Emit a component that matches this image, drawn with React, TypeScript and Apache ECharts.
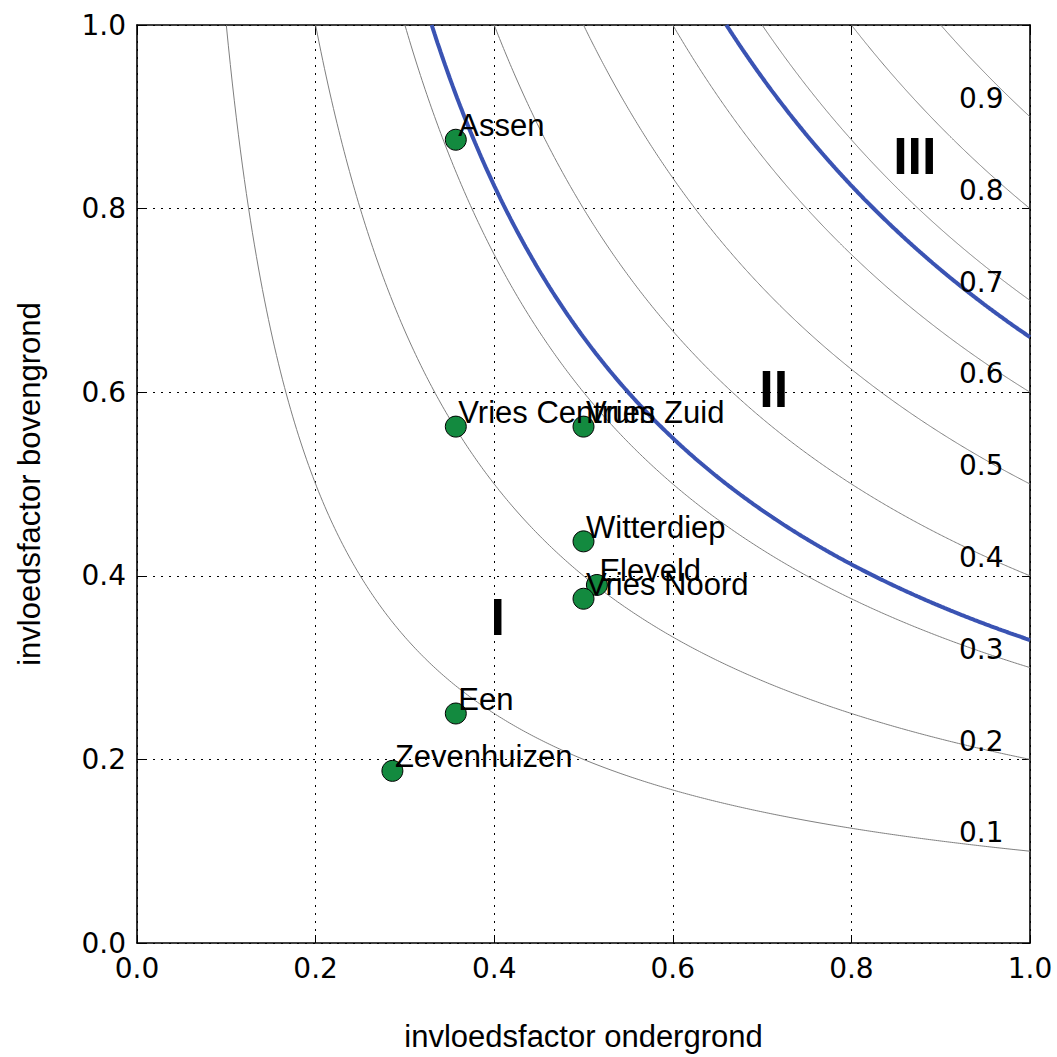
import React, { useEffect, useRef } from "react";
import * as echarts from "echarts";

// Iso-lines x*y = c (thin grey) and zone boundaries (thick blue)
const isoLevels = [0.1, 0.2, 0.3, 0.4, 0.5, 0.6, 0.7, 0.8, 0.9];
const boundaryLevels = [0.33, 0.66];
const isoLabelTexts = ["0.1", "0.2", "0.3", "0.4", "0.5", "0.6", "0.7", "0.8", "0.9"];
const isoLabelX = 0.92;
const isoLabelLift = 0.02;

// Stations
const stationNames = ["Assen", "Vries Centrum", "Vries Zuid", "Witterdiep", "Eleveld", "Vries Noord", "Een", "Zevenhuizen"];
const stationX = [0.357, 0.357, 0.5, 0.5, 0.515, 0.5, 0.357, 0.286];
const stationY = [0.875, 0.5625, 0.5625, 0.4375, 0.39, 0.375, 0.25, 0.1875];

// Zone annotations
const zoneNames = ["I", "II", "III"];
const zoneX = [0.404, 0.713, 0.871];
const zoneY = [0.355, 0.603, 0.857];

// Axis ticks
const axisMin = 0;
const axisMax = 1;
const axisInterval = 0.2;

function hyperbola(c: number): number[][] {
  const pts: number[][] = [];
  const n = 400;
  for (let i = 0; i <= n; i++) {
    const x = c + ((1 - c) * i) / n;
    pts.push([x, c / x]);
  }
  return pts;
}

const TICK_FONT = "DejaVu Sans";
const TEXT_FONT = "Liberation Sans";

function makeAxis(pos: string, main: boolean, name?: string, extra?: any) {
  return {
    type: "value",
    position: pos,
    min: axisMin,
    max: axisMax,
    interval: axisInterval,
    name: name,
    nameLocation: "middle",
    nameTextStyle: { fontFamily: TEXT_FONT, fontSize: 31, color: "#000" },
    axisLine: { show: true, onZero: false, lineStyle: { color: "#000", width: 1.6 } },
    axisTick: { show: true, inside: true, length: 8, lineStyle: { color: "#000", width: 1 } },
    axisLabel: {
      show: main,
      fontFamily: TICK_FONT,
      fontSize: 28,
      color: "#000",
      margin: 11,
      formatter: (v: number) => v.toFixed(1),
    },
    splitLine: {
      show: main,
      lineStyle: { color: "#000", width: 1, type: [2, 6] },
    },
    ...(extra || {}),
  };
}

function textSeries(data: any[], label: any) {
  return {
    type: "scatter",
    data,
    symbol: "circle",
    symbolSize: 1,
    silent: true,
    itemStyle: { color: "rgba(0,0,0,0)", opacity: 1 },
    label: {
      show: true,
      color: "#000",
      opacity: 1,
      formatter: (p: any) => p.value[2],
      ...label,
    },
    emphasis: { disabled: true },
    z: 5,
  };
}

export default function App() {
  const ref = useRef<HTMLDivElement>(null);
  useEffect(() => {
    document.body.style.margin = "0";
    if (!ref.current) return;
    const chart = echarts.init(ref.current, undefined, { renderer: "svg" });

    const series: any[] = [];
    isoLevels.forEach((c) => {
      series.push({
        type: "line",
        data: hyperbola(c),
        showSymbol: false,
        symbol: "none",
        silent: true,
        lineStyle: { color: "#7f7f7f", width: 1 },
        z: 2,
      });
    });
    boundaryLevels.forEach((c) => {
      series.push({
        type: "line",
        data: hyperbola(c),
        showSymbol: false,
        symbol: "none",
        silent: true,
        lineStyle: { color: "#3a53b3", width: 4 },
        z: 3,
      });
    });
    series.push({
      type: "scatter",
      data: stationX.map((x, i) => [x, stationY[i]]),
      symbol: "circle",
      symbolSize: 21,
      silent: true,
      itemStyle: { color: "#138a3f", borderColor: "#000", borderWidth: 1, opacity: 1 },
      z: 4,
    });
    series.push(
      textSeries(
        stationX.map((x, i) => [x, stationY[i], stationNames[i]]),
        { position: "right", distance: 2, offset: [0, -14], fontFamily: TEXT_FONT, fontSize: 31 }
      )
    );
    series.push(
      textSeries(
        isoLevels.map((c, i) => [isoLabelX, c + isoLabelLift, isoLabelTexts[i]]),
        { position: "right", distance: 0, fontFamily: TICK_FONT, fontSize: 28 }
      )
    );
    series.push(
      textSeries(
        zoneX.map((x, i) => [x, zoneY[i], zoneNames[i]]),
        { position: "inside", fontFamily: TEXT_FONT, fontWeight: "bold", fontSize: 52 }
      )
    );

    chart.setOption({
      animation: false,
      backgroundColor: "#fff",
      grid: { left: 137, top: 25, width: 893, height: 920, containLabel: false },
      xAxis: [
        makeAxis("bottom", true, "invloedsfactor ondergrond", { nameGap: 78 }),
        makeAxis("top", false),
      ],
      yAxis: [
        makeAxis("left", true, "invloedsfactor bovengrond", { nameGap: 92, nameRotate: 90 }),
        makeAxis("right", false),
      ],
      series,
    });
    return () => chart.dispose();
  }, []);
  return (
    <div
      ref={ref}
      style={{ position: "fixed", left: 0, top: 0, width: 1057, height: 1057, background: "#fff" }}
    />
  );
}
